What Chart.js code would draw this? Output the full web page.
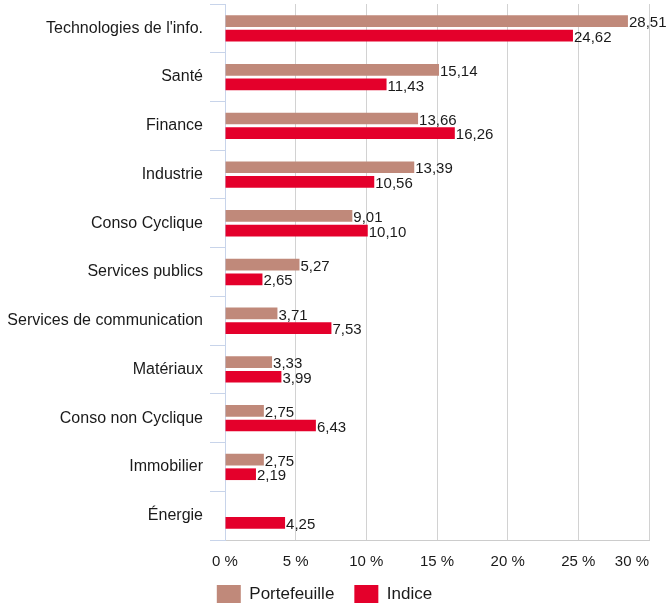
<!DOCTYPE html>
<html>
<head>
<meta charset="utf-8">
<script src="https://cdn.jsdelivr.net/npm/chart.js@4/dist/chart.umd.min.js"></script>
<style>
  html, body { margin: 0; padding: 0; background: #ffffff; }
  #wrap { width: 666px; height: 607px; position: relative; }
</style>
</head>
<body>
<div id="wrap"><canvas id="c" width="666" height="607"></canvas></div>
<script>
const categories = [
  "Technologies de l'info.", "Santé", "Finance", "Industrie", "Conso Cyclique",
  "Services publics", "Services de communication", "Matériaux",
  "Conso non Cyclique", "Immobilier", "Énergie"
];
const portefeuille = [28.51, 15.14, 13.66, 13.39, 9.01, 5.27, 3.71, 3.33, 2.75, 2.75, null];
const indice = [24.62, 11.43, 16.26, 10.56, 10.10, 2.65, 7.53, 3.99, 6.43, 2.19, 4.25];
const xTickValues = [0, 5, 10, 15, 20, 25, 30];
const seriesNames = ["Portefeuille", "Indice"];

const FONT = "'Liberation Sans', Arial, Helvetica, sans-serif";
const fmt = v => v.toFixed(2).replace('.', ',');

const valueLabels = {
  id: 'valueLabels',
  afterDatasetsDraw(chart) {
    const ctx = chart.ctx;
    ctx.save();
    ctx.font = '15px ' + FONT;
    ctx.fillStyle = '#1a1a1a';
    ctx.textAlign = 'left';
    ctx.textBaseline = 'middle';
    chart.data.datasets.forEach((ds, di) => {
      const meta = chart.getDatasetMeta(di);
      meta.data.forEach((el, i) => {
        const v = ds.data[i];
        if (v === null || v === undefined) return;
        ctx.fillText(fmt(v), el.x + 1, el.y + 2);
      });
    });
    ctx.restore();
  }
};

const xLabels = {
  id: 'xLabels',
  afterDraw(chart) {
    const scale = chart.scales.x;
    const ctx = chart.ctx;
    ctx.save();
    ctx.font = '15px ' + FONT;
    ctx.fillStyle = '#1a1a1a';
    ctx.textBaseline = 'middle';
    const n = scale.ticks.length;
    scale.ticks.forEach((t, i) => {
      const px = scale.getPixelForTick(i);
      const txt = t.value + ' %';
      ctx.textAlign = (i === n - 1) ? 'right' : 'center';
      ctx.fillText(txt, px, scale.top + 22);
    });
    ctx.restore();
  }
};

new Chart(document.getElementById('c'), {
  type: 'bar',
  data: {
    labels: categories,
    datasets: [
      { label: seriesNames[0], data: portefeuille, backgroundColor: '#c0897a', borderWidth: 0 },
      { label: seriesNames[1], data: indice, backgroundColor: '#e4002b', borderWidth: 0 }
    ]
  },
  options: {
    indexAxis: 'y',
    responsive: false,
    animation: false,
    devicePixelRatio: 1,
    categoryPercentage: 0.6,
    barPercentage: 0.8,
    layout: { padding: { top: 4, right: 17, left: 0, bottom: -6 } },
    scales: {
      x: {
        min: 0, max: 30,
        afterBuildTicks(scale) { scale.ticks = xTickValues.map(v => ({ value: v })); },
        grid: { color: '#d2d2d2', drawTicks: false, lineWidth: 1 },
        border: { color: '#cccccc', width: 1 },
        ticks: { display: false },
        afterFit(scale) { scale.height = 25; scale.paddingLeft = 0; scale.paddingRight = 0; }
      },
      y: {
        grid: { offset: true, drawOnChartArea: false, color: '#c8d4ea', tickLength: 15 },
        border: { color: '#c8d4ea', width: 1 },
        ticks: { font: { family: FONT, size: 16 }, color: '#1a1a1a', padding: 7 },
        afterFit(scale) { scale.width = 225; scale.paddingTop = 0; scale.paddingBottom = 0; }
      }
    },
    plugins: {
      legend: {
        position: 'bottom',
        labels: {
          boxWidth: 24, boxHeight: 18, padding: 20,
          font: { family: FONT, size: 17 }, color: '#1a1a1a'
        }
      },
      tooltip: { enabled: false }
    }
  },
  plugins: [valueLabels, xLabels]
});
</script>
</body>
</html>
